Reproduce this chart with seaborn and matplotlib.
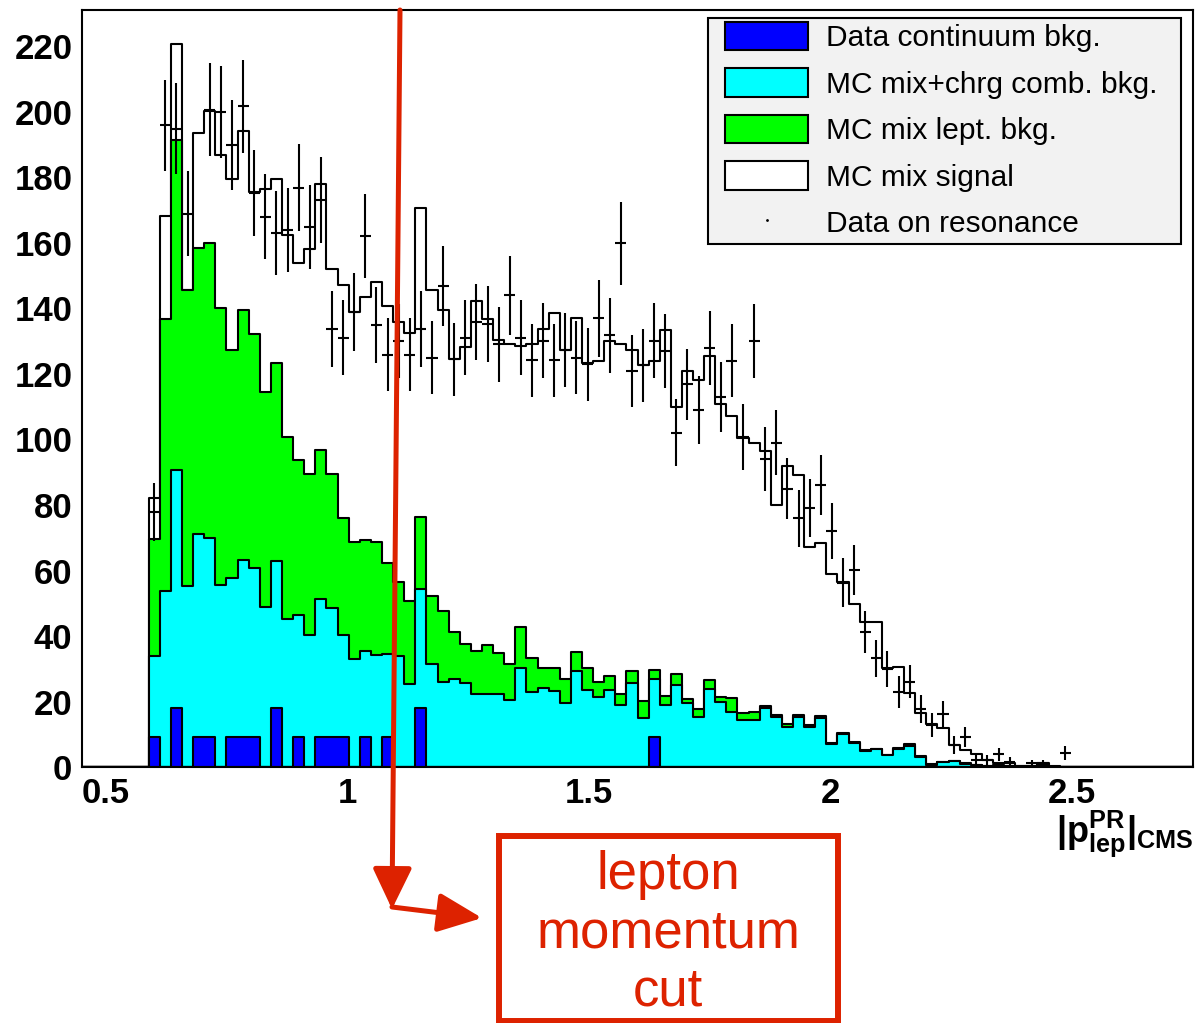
import numpy as np
import pandas as pd
import matplotlib
matplotlib.use('Agg')
import matplotlib.pyplot as plt
import seaborn as sns
from matplotlib.patches import Patch, Rectangle, FancyArrowPatch
from matplotlib.lines import Line2D

# binning: 100 bins on [0.45, 2.75], filled bins start at bin 6
x_lo, x_hi, n_bins = 0.45, 2.75, 100
first_bin = 6

# stacked heights as drawn (THStack style, cumulative), bins 6..88
signal_top = [82, 168.1, 220.6, 145.5, 193.5, 200.2, 186.9, 179.5, 194, 175.4,
              176.4, 179.4, 162.5, 153.7, 158, 177.9, 151.9, 147.2, 138.9, 143.6,
              148, 140.8, 135.8, 132.5, 170.7, 145.5, 139.6, 124.4, 128.2, 142.1,
              136.6, 130.3, 129, 128.4, 129, 133.8, 138.6, 127.4, 136.9, 123.2,
              123.9, 130, 129, 127.4, 122.6, 123.9, 133.5, 109.9, 120.8, 118.1,
              125.6, 110.8, 107.1, 100.5, 99, 96.6, 80, 91.9, 89.1, 67.1,
              68.3, 59.1, 56.6, 49.8, 44.2, 44.2, 30.2, 30.5, 22.6, 16.5,
              13.2, 11.9, 6.8, 5.3, 4.1, 2.2, 1.4, 1.4, 0.5, 0.5,
              1.2, 0, 0]
lept_top = [69.5, 136.6, 191.2, 145.5, 158.5, 159.9, 140.2, 127.4, 139.4, 132.3,
            114.5, 123.2, 100.6, 93.7, 89.6, 96.7, 89.6, 76.1, 68.8, 69.3,
            68.8, 62.2, 56.6, 50.6, 76.4, 52.4, 47.7, 41.2, 37.6, 35.5,
            37.3, 34.8, 31.6, 42.8, 33.2, 30.2, 30.4, 26.8, 35.2, 30.4,
            26.0, 28.0, 22.4, 29.4, 20.1, 29.7, 21.8, 28.5, 20.9, 17.7,
            26.6, 21.5, 21.2, 16.6, 16.9, 18.7, 16.0, 13.2, 15.9, 12.9,
            15.6, 7.3, 10.5, 7.7, 5.3, 5.7, 3.9, 6.0, 7.2, 3.3,
            1.0, 1.7, 2.0, 1.3, 0.8, 0.5, 0.6, 0.5, 0.3, 0.3,
            0.6, 0.4, 0]
comb_top = [33.9, 53.8, 90.8, 55.3, 71.1, 69.8, 55.6, 57.8, 63.2, 60.9,
            49.0, 63.0, 45.2, 46.4, 40.3, 51.3, 48.5, 40.3, 32.9, 35.6,
            34.2, 34.6, 34.0, 25.3, 54.5, 31.4, 26.0, 26.8, 25.6, 22.4,
            22.4, 22.4, 20.6, 30.4, 23.0, 24.2, 23.2, 19.6, 29.4, 23.7,
            21.3, 23.7, 19.1, 25.6, 14.9, 26.8, 19.1, 25.2, 19.6, 15.4,
            23.9, 19.8, 17.0, 14.3, 14.4, 18.0, 15.3, 12.2, 15.4, 12.4,
            14.9, 7.1, 10.3, 7.5, 5.1, 5.5, 3.7, 5.5, 6.6, 3.0,
            0.7, 1.5, 1.8, 1.1, 0.6, 0.3, 0.4, 0.3, 0.1, 0.1,
            0.2, 0.1, 0]
continuum = [9.1, 0, 18.2, 0, 9.1, 9.1, 0, 9.1, 9.1, 9.1,
             0, 18.2, 0, 9.1, 0, 9.1, 9.1, 9.1, 0, 9.1,
             0, 9.1, 0, 0, 18.2, 0, 0, 0, 0, 0,
             0, 0, 0, 0, 0, 0, 0, 0, 0, 0,
             0, 0, 0, 0, 0, 9.1, 0, 0, 0, 0]

# data on resonance, bins 6..88 (nan = no point)
data_on = [78, 195.8, 194.8, 168.9, np.nan, 200.6, 199.9, 189.9, 201.6, 175.2,
           167.9, 163.0, 163.8, 176.8, 164.8, 173.0, 133.8, 131.0, 138.9, 162.0,
           134.8, 125.9, 130.0, 125.9, 133.8, 124.9, 146.8, 124.4, 131.0, 135.9,
           135.1, 129.0, 144.0, 131.0, 124.2, 130.1, 124.2, 127.4, 124.9, 122.9,
           136.9, 131.8, 159.8, 120.9, 122.6, 130.1, 127.0, 102.1, 116.9, 108.9,
           127.9, 113.0, 124.0, 100.7, 130.0, 94.0, 99.0, 85.0, 75.9, 79.0,
           86.1, 72.0, 56.3, 60.2, 41.3, 33.2, 29.9, 23.0, 26.1, 17.8,
           13.0, 16.2, 6.8, 9.3, 2.2, 2.2, 4.0, 1.7, np.nan, 1.2,
           1.2, np.nan, 4.3]

legend_labels = ['Data continuum bkg.', 'MC mix+chrg comb. bkg.',
                 'MC mix lept. bkg.', 'MC mix signal', 'Data on resonance']
colors = ['#0000ff', '#00ffff', '#00ff00', 'white']
red = '#dd2200'

sns.set_style('white')
plt.rcParams['font.family'] = ['Liberation Sans', 'DejaVu Sans']
plt.rcParams['mathtext.fontset'] = 'custom'
plt.rcParams['mathtext.rm'] = 'Liberation Sans'
plt.rcParams['mathtext.bf'] = 'Liberation Sans:bold'
plt.rcParams['axes.edgecolor'] = 'black'
plt.rcParams['text.color'] = 'black'
plt.rcParams['xtick.color'] = 'black'
plt.rcParams['ytick.color'] = 'black'

edges = np.linspace(x_lo, x_hi, n_bins + 1)
centers = 0.5 * (edges[:-1] + edges[1:])
binw = edges[1] - edges[0]


def full(vals):
    out = np.zeros(n_bins)
    out[first_bin:first_bin + len(vals)] = vals
    return out


W, H = 1195, 1023
fig = plt.figure(figsize=(W / 100, H / 100), dpi=100)
ax = fig.add_axes([82 / W, 1 - 767.3 / H, (1193 - 82) / W, (767.3 - 10) / H])

# draw the stack from the top level down
for vals, col in [(signal_top, colors[3]), (lept_top, colors[2]),
                  (comb_top, colors[1]), (continuum, colors[0])]:
    df = pd.DataFrame({'p': centers, 'w': full(vals)})
    sns.histplot(data=df, x='p', weights='w', bins=list(edges), element='step',
                 fill=True, color=col, alpha=1, edgecolor='black',
                 linewidth=1.5, ax=ax)

d = full(data_on)
ok = np.isfinite(d) & (d > 0)
ax.errorbar(centers[ok], d[ok], yerr=np.sqrt(d[ok]), xerr=binw / 2,
            fmt='none', ecolor='black', elinewidth=1.5, capsize=0, zorder=5)

ax.set_xlim(x_lo, x_hi)
ax.set_ylim(0, 231)
ax.set_xlabel('')
ax.set_ylabel('')
ax.set_xticks([0.5, 1, 1.5, 2, 2.5])
ax.set_xticklabels(['0.5', '1', '1.5', '2', '2.5'])
ax.set_xticks(np.arange(0.5, 2.75, 0.1), minor=True)
ax.set_yticks(range(0, 221, 20))
ax.set_yticks(range(0, 231, 5), minor=True)
ax.tick_params(axis='x', which='major', direction='in', length=15.8, width=1.4,
               labelsize=25, pad=7)
ax.tick_params(axis='x', which='minor', direction='in', length=7.9, width=1.4)
ax.tick_params(axis='y', which='major', direction='in', length=23.8, width=1.4,
               labelsize=25, pad=7)
ax.tick_params(axis='y', which='minor', direction='in', length=11.9, width=1.4)
for lab in ax.get_xticklabels() + ax.get_yticklabels():
    lab.set_fontweight('bold')
for sp in ax.spines.values():
    sp.set_linewidth(1.5)
    sp.set_color('black')


def inch(px, py):
    return (px / 100, (H - py) / 100)


# legend: grey box drawn separately, entries placed inside it
fig.add_artist(Rectangle(inch(708, 244), 473 / 100, 226 / 100, transform=fig.dpi_scale_trans,
                         facecolor='#f2f2f2', edgecolor='black', linewidth=1.5, zorder=4))
handles = [Patch(facecolor=c, edgecolor='black', linewidth=1.5) for c in colors]
handles.append(Line2D([], [], marker='.', markersize=2, linestyle='none', color='black'))
leg = fig.legend(handles, legend_labels, loc='upper left',
                 bbox_to_anchor=(725 / W, 1 - 22 / H), bbox_transform=fig.transFigure,
                 fontsize=21.5, frameon=False, borderpad=0,
                 handlelength=2.78, handleheight=1.07, handletextpad=0.6,
                 labelspacing=0.545, borderaxespad=0)
leg.set_zorder(5)

fig.text(1194 / W, 1 - 808 / H, r'$\mathbf{|p^{PR}_{lep}|_{CMS}}$',
         ha='right', va='top', fontsize=26)

# annotation: the lepton momentum cut, in figure pixels
fig.add_artist(FancyArrowPatch(inch(400, 10), inch(392, 909), transform=fig.dpi_scale_trans,
                               arrowstyle='-|>,head_length=2.5,head_width=1.2',
                               mutation_scale=10, color=red, linewidth=3.6,
                               shrinkA=0, shrinkB=0))
fig.add_artist(FancyArrowPatch(inch(392, 907), inch(482, 918), transform=fig.dpi_scale_trans,
                               arrowstyle='-|>,head_length=2.7,head_width=1.2',
                               mutation_scale=10, color=red, linewidth=3.6,
                               shrinkA=0, shrinkB=0))
fig.add_artist(Rectangle(inch(499, 1021), 339 / 100, 185 / 100, transform=fig.dpi_scale_trans,
                         fill=False, edgecolor=red, linewidth=4.3))
for txt, y in [('lepton', 875), ('momentum', 934), ('cut', 992)]:
    fig.text(668 / W, 1 - y / H, txt, ha='center', va='center', fontsize=38, color=red)

fig.savefig('out.png', dpi=100)
